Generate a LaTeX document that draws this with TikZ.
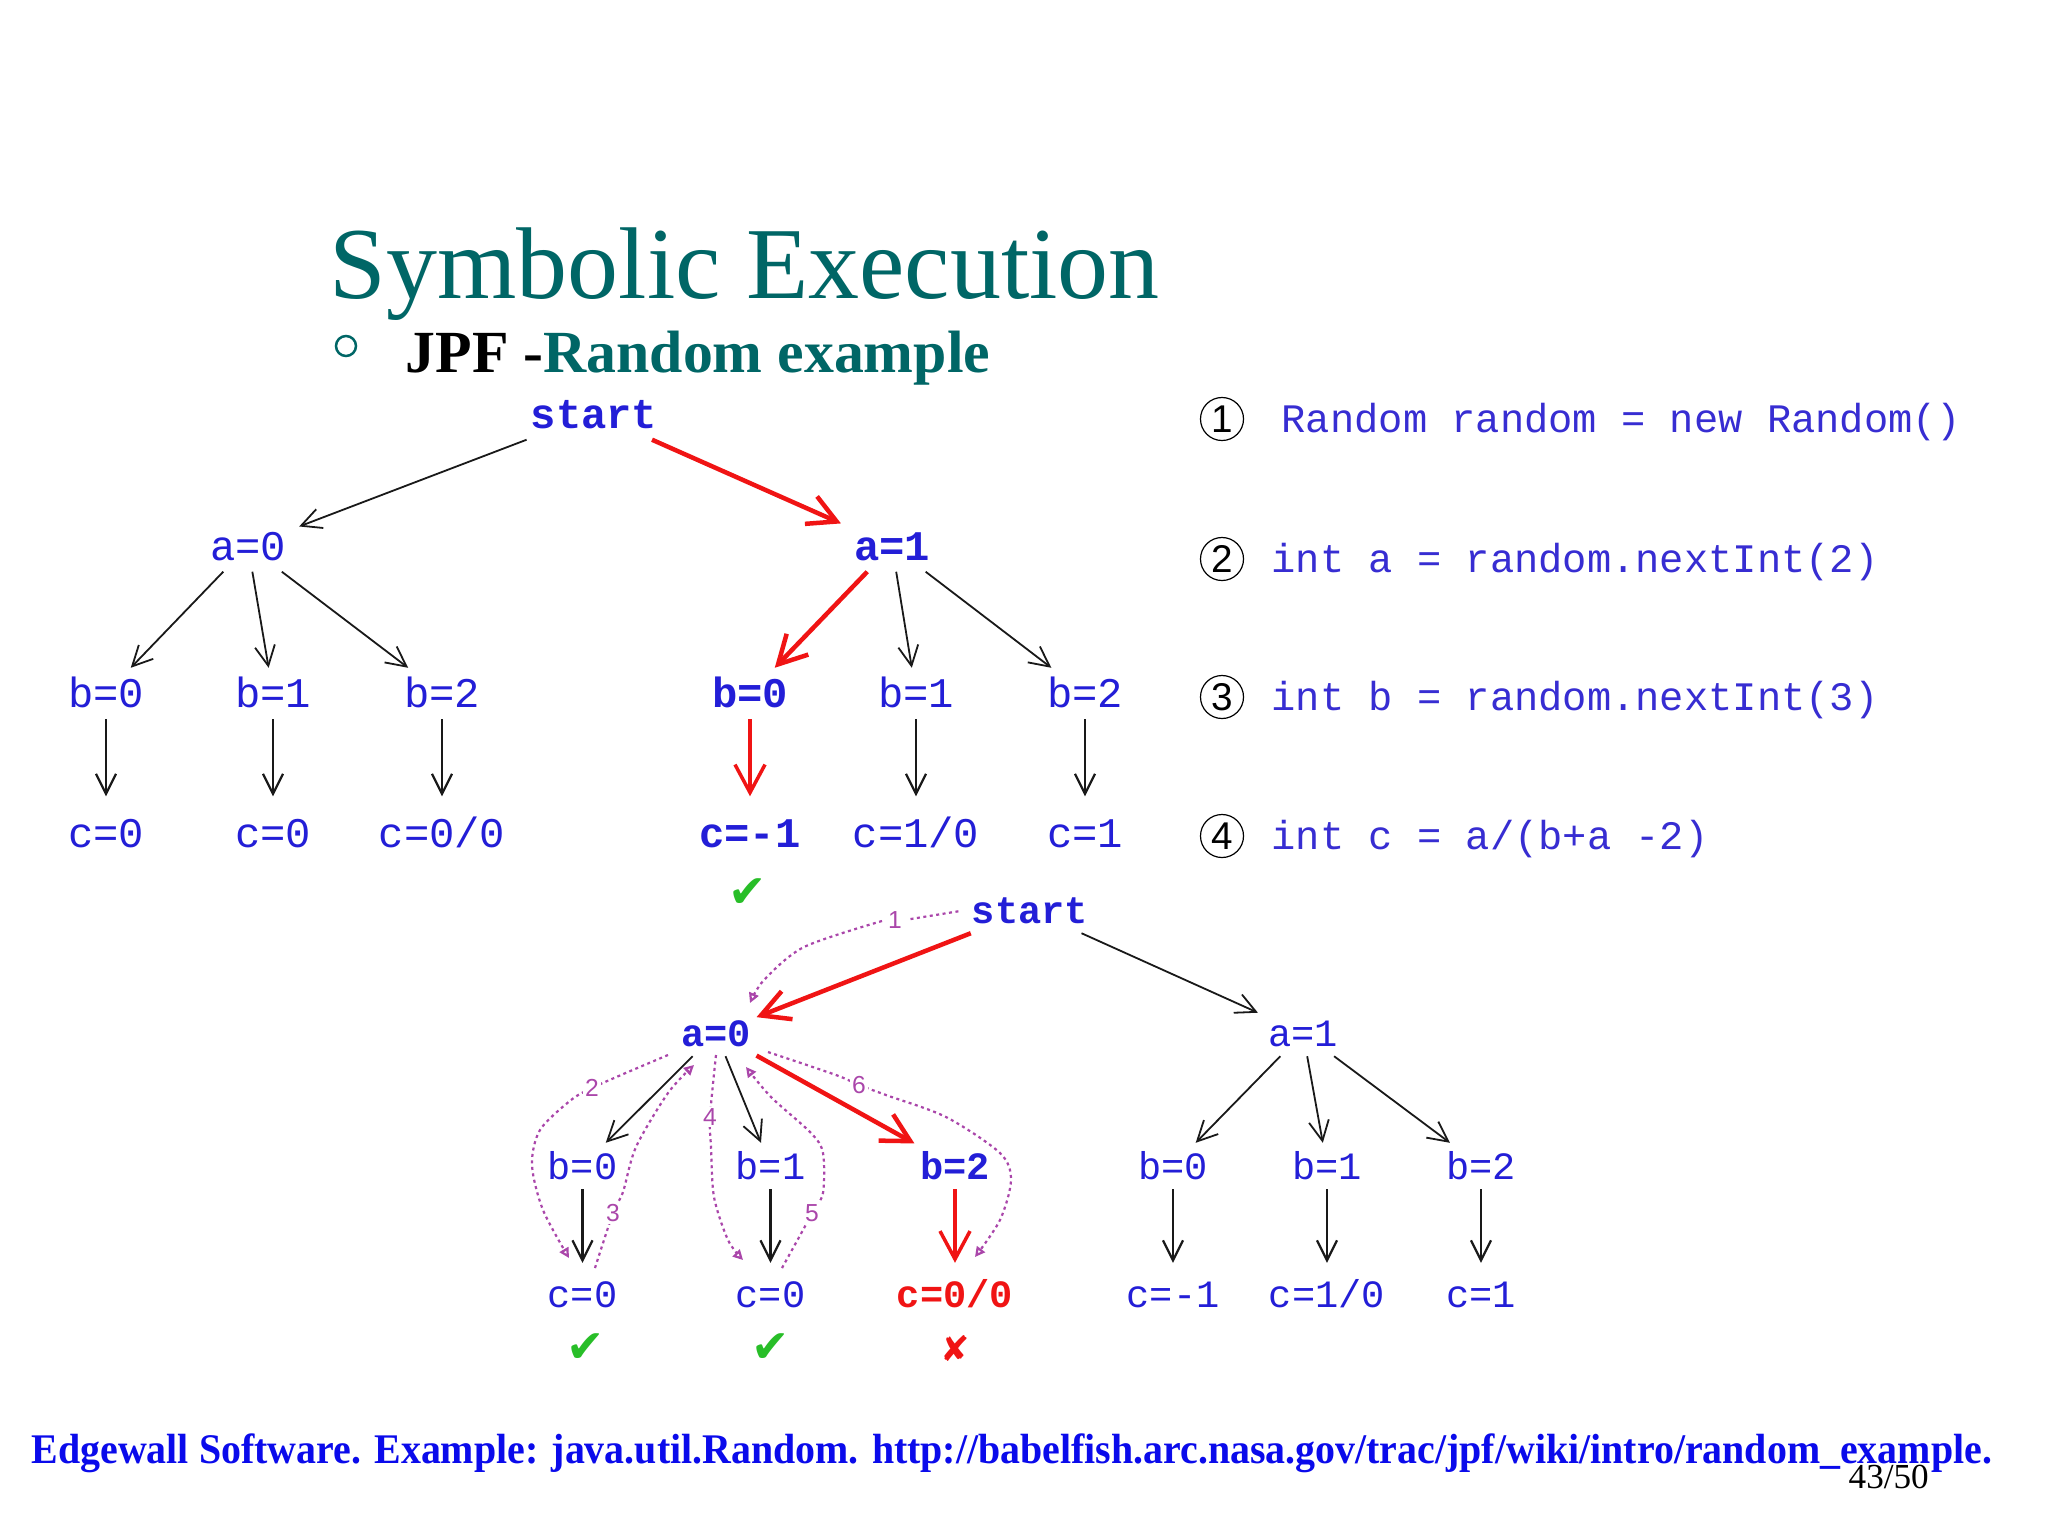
\documentclass[tikz,border=0pt]{standalone}
\usepackage{fontspec}
\usepackage{graphicx}
\setmainfont{Liberation Serif}
\newfontfamily\monof{Liberation Mono}
\newfontfamily\symf{DejaVu Sans}
\newfontfamily\numf{Liberation Sans}
\usetikzlibrary{arrows.meta}
\definecolor{titleteal}{RGB}{0,102,102}
\definecolor{treeblue}{RGB}{35,30,215}
\definecolor{codeblue}{RGB}{55,45,210}
\definecolor{redc}{RGB}{240,20,20}
\definecolor{greenc}{RGB}{40,190,40}
\definecolor{purpc}{RGB}{170,70,170}
\definecolor{footblue}{RGB}{10,10,235}
\tikzset{
  ttree/.style={font=\monof\fontsize{12pt}{14pt}\selectfont, text=treeblue, inner xsep=0.05cm, inner ysep=0pt, text height=0.28cm, text depth=0pt, minimum height=0.5cm},
  ttreeb/.style={ttree, font=\monof\bfseries\fontsize{12pt}{14pt}\selectfont},
  btree/.style={font=\monof\fontsize{11pt}{13pt}\selectfont, text=treeblue, inner xsep=0.05cm, inner ysep=0pt, text height=0.26cm, text depth=0pt, minimum height=0.45cm},
  btreeb/.style={btree, font=\monof\bfseries\fontsize{11pt}{13pt}\selectfont},
  blk/.style={draw=black!90, line width=0.018cm, -{Straight Barb[length=0.2cm,width=0.2cm]}},
  blkv/.style={blk, line width=0.022cm},
  redA/.style={draw=redc, line width=0.045cm, -{Straight Barb[length=0.28cm,width=0.3cm]}},
  purpline/.style={draw=purpc, line width=0.022cm, dash pattern=on 0.03cm off 0.035cm},
  purparrow/.style={purpline, -{Triangle[open,length=0.1cm,width=0.1cm]}},
  numlbl/.style={font=\numf\fontsize{7pt}{8pt}\selectfont, text=purpc, fill=white, inner sep=0.02cm},
  circnum/.style={circle, draw=black, line width=0.012cm, minimum size=0.43cm, inner sep=0pt, font=\numf\fontsize{11pt}{12pt}\selectfont},
  codeline/.style={anchor=base west, inner sep=0pt, font=\monof\fontsize{11.5pt}{13pt}\selectfont, text=codeblue},
  chk/.style={font=\symf\fontsize{13pt}{15pt}\selectfont, text=greenc, inner sep=0pt},
}
\begin{document}
\begin{tikzpicture}[x=0.01cm,y=-0.01cm]
\path[fill=white] (0,0) rectangle (2048,1536);
\useasboundingbox (0,0) rectangle (2048,1536);

% title
\node[anchor=base west, inner sep=0pt, font=\fontsize{29pt}{34pt}\selectfont, text=titleteal] (title) at (329,298) {Symbolic Execution};
\node[circle, draw=titleteal, line width=0.025cm, minimum size=0.2cm, inner sep=0pt] (bul) at (346,346) {};
\node[anchor=base west, inner sep=0pt, font=\bfseries\fontsize{17pt}{20pt}\selectfont] (sub) at (405,372) {JPF -\textcolor{titleteal}{Random example}};

% top tree
\node[ttreeb] (tS) at (594,414) {start};
\node[ttree] (tA0) at (248,546) {a=0};
\node[ttreeb] (tA1) at (892,546) {a=1};
\node[ttree] (tB00) at (106,693.5) {b=0};
\node[ttree] (tB01) at (273,693.5) {b=1};
\node[ttree] (tB02) at (442,693.5) {b=2};
\node[ttreeb] (tB10) at (750,693.5) {b=0};
\node[ttree] (tB11) at (916,693.5) {b=1};
\node[ttree] (tB12) at (1085,693.5) {b=2};
\node[ttree] (tC00) at (106,833) {c=0};
\node[ttree] (tC01) at (273,833) {c=0};
\node[ttree] (tC02) at (442,833) {c=0/0};
\node[ttreeb] (tC10) at (750,833) {c=-1};
\node[ttree] (tC11) at (916,833) {c=1/0};
\node[ttree] (tC12) at (1085,833) {c=1};
\node[chk] (tChk) at (748,893) {✔};

\draw[blk, shorten >=0.08cm] (tS) -- (tA0);
\draw[redA, shorten >=0.08cm] (tS) -- (tA1);
\draw[blk] (tA0) -- (tB00);
\draw[blk] (tA0) -- (tB01);
\draw[blk] (tA0) -- (tB02);
\draw[redA] (tA1) -- (tB10);
\draw[blk] (tA1) -- (tB11);
\draw[blk] (tA1) -- (tB12);
\draw[blkv, shorten >=0.11cm] (tB00) -- (tC00);
\draw[blkv, shorten >=0.11cm] (tB01) -- (tC01);
\draw[blkv, shorten >=0.11cm] (tB02) -- (tC02);
\draw[redA, line width=0.035cm, shorten >=0.11cm] (tB10) -- (tC10);
\draw[blkv, shorten >=0.11cm] (tB11) -- (tC11);
\draw[blkv, shorten >=0.11cm] (tB12) -- (tC12);

% code
\node[circnum] (k1) at (1222,419) {1};
\node[circnum] (k2) at (1222,559) {2};
\node[circnum] (k3) at (1222,697) {3};
\node[circnum] (k4) at (1222,836) {4};
\node[codeline] (l1) at (1281,432) {Random random = new Random()};
\node[codeline] (l2) at (1271,572) {int a = random.nextInt(2)};
\node[codeline] (l3) at (1271,710) {int b = random.nextInt(3)};
\node[codeline] (l4) at (1271,849) {int c = a/(b+a -2)};

% bottom tree
\node[btreeb] (bS) at (1030,910) {start};
\node[btreeb] (bA0) at (716,1033) {a=0};
\node[btree] (bA1) at (1303,1033) {a=1};
\node[btree] (bB00) at (582.5,1166) {b=0};
\node[btree] (bB01) at (770.5,1166) {b=1};
\node[btreeb] (bB02) at (955,1166) {b=2};
\node[btree] (bB10) at (1173,1166) {b=0};
\node[btree] (bB11) at (1327,1166) {b=1};
\node[btree] (bB12) at (1481,1166) {b=2};
\node[btree] (bC00) at (582.5,1294) {c=0};
\node[btree] (bC01) at (770.5,1294) {c=0};
\node[btreeb, text=redc] (bC02) at (955,1294) {c=0/0};
\node[btree] (bC10) at (1173,1294) {c=-1};
\node[btree] (bC11) at (1327,1294) {c=1/0};
\node[btree] (bC12) at (1481,1294) {c=1};
\node[chk] (bChk1) at (586,1348) {✔};
\node[chk] (bChk2) at (770.5,1348) {✔};
\node[chk, text=redc, font=\symf\fontsize{10pt}{12pt}\selectfont] (bX) at (955,1348) {✘};

\draw[redA] (bS) -- (bA0);
\draw[blk, shorten >=0.05cm] (bS) -- (bA1);
\draw[blk] (bA0) -- (bB00);
\draw[blk] (bA0) -- (bB01);
\draw[redA] (bA0) -- (bB02);
\draw[blk] (bA1) -- (bB10);
\draw[blk] (bA1) -- (bB11);
\draw[blk] (bA1) -- (bB12);
\draw[blkv, shorten >=0.08cm] (bB00) -- (bC00);
\draw[blkv, shorten >=0.08cm] (bB01) -- (bC01);
\draw[redA, line width=0.035cm, shorten >=0.08cm] (bB02) -- (bC02);
\draw[blkv, shorten >=0.08cm] (bB10) -- (bC10);
\draw[blkv, shorten >=0.08cm] (bB11) -- (bC11);
\draw[blkv, shorten >=0.08cm] (bB12) -- (bC12);

% exploration order (purple dotted)
\node[numlbl] (n1) at (895,920) {1};
\draw[purpline, shorten <=0.06cm, shorten >=0.06cm] (n1.east) -- (bS.west);
\draw[purparrow] plot[smooth] coordinates {(882,921) (804,947) (764,980) (750,1003)};
\draw[purparrow] plot[smooth] coordinates {(668,1055) (621,1075) (592,1088) (571,1100) (540,1130) (532,1165) (543,1210) (569,1258)};
\draw[purparrow] plot[smooth] coordinates {(595,1268) (613,1213) (623,1192) (636,1147) (668,1093) (694,1065)};
\draw[purparrow] plot[smooth] coordinates {(716,1055) (710,1117) (711,1147) (714,1197) (728,1240) (743,1260)};
\draw[purparrow] plot[smooth] coordinates {(782,1268) (803,1230) (812,1213) (823,1193) (823,1153) (811,1133) (771,1097) (746,1067)};
\draw[purparrow] plot[smooth] coordinates {(768,1052) (836,1075) (859,1085) (886,1095) (946,1117) (1000,1153) (1011,1180) (1000,1220) (975,1257)};
\node[numlbl] (n2) at (592,1088) {2};
\node[numlbl] (n3) at (613,1213) {3};
\node[numlbl] (n4) at (710,1117) {4};
\node[numlbl] (n5) at (812,1213) {5};
\node[numlbl] (n6) at (859,1085) {6};

% footer
\node[anchor=base west, inner sep=0pt, text=footblue, font=\bfseries\fontsize{12pt}{14pt}\selectfont] (foot) at (31,1463) {\resizebox{19.59cm}{\height}{Edgewall Software. Example: java.util.Random. http://babelfish.arc.nasa.gov/trac/jpf/wiki/intro/random\_example.}};
\node[anchor=base west, inner sep=0pt, font=\fontsize{10pt}{12pt}\selectfont] (pg) at (1848,1488) {43/50};
\end{tikzpicture}
\end{document}
